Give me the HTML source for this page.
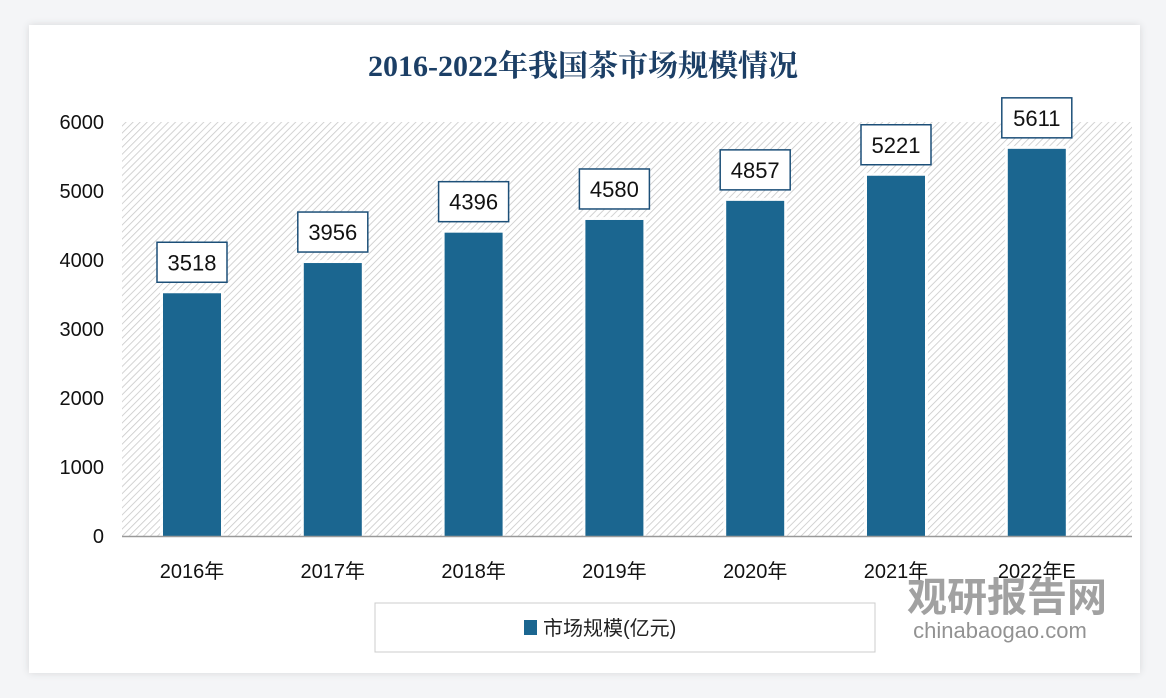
<!DOCTYPE html>
<html><head><meta charset="utf-8"><style>
body{margin:0;background:#f4f5f7;width:1166px;height:698px;overflow:hidden;font-family:"Liberation Sans","Noto Sans CJK SC",sans-serif}
#card{position:absolute;left:29px;top:25px;width:1111px;height:648px;background:#fff;box-shadow:0 0 8px rgba(0,0,0,.12)}
</style></head><body>
<div id="card"></div>
<svg id="chart" width="1166" height="698" style="position:absolute;left:0;top:0">
<defs><pattern id="hatch" width="5" height="5" patternUnits="userSpaceOnUse" patternTransform="rotate(45)"><rect width="5" height="5" fill="#fff"/><line x1="0" y1="0" x2="0" y2="5" stroke="#c8c8c8" stroke-width="1.6"/></pattern></defs>
<text x="583" y="76" text-anchor="middle" font-family="'Liberation Serif','Noto Serif CJK SC',serif" font-weight="bold" font-size="30" fill="#1c3f66">2016-2022年我国茶市场规模情况</text>
<rect x="122" y="122" width="1010" height="414" fill="url(#hatch)"/>
<g id="bars"></g>
<line x1="122" y1="536.5" x2="1132" y2="536.5" stroke="#999" stroke-width="1.5"/>
<rect x="375" y="603" width="500" height="49" fill="#fff" stroke="#ccc"/>
<rect x="524" y="620" width="13" height="15" fill="#1b6690"/>
<text x="543" y="635" font-size="20" fill="#222">市场规模(亿元)</text>
<text x="1007" y="611" text-anchor="middle" font-size="40" font-weight="bold" fill="#8a8a8a" opacity="0.8">观研报告网</text>
<text x="1000" y="638" text-anchor="middle" font-size="22" fill="#777" opacity="0.8">chinabaogao.com</text>
</svg>
<script>
const categories=["2016年","2017年","2018年","2019年","2020年","2021年","2022年E"];
const values=[3518,3956,4396,4580,4857,5221,5611];
const yTicks=[0,1000,2000,3000,4000,5000,6000];
const NS="http://www.w3.org/2000/svg";
const g=document.getElementById('bars'),svg=document.getElementById('chart');
const x0=121.6,step=140.8,yTop=122,yBot=536,yMax=6000;
const y=v=>yBot-(v/yMax)*(yBot-yTop);
const xc=i=>x0+step*(i+0.5);
function mk(t,a){const e=document.createElementNS(NS,t);for(const k in a)e.setAttribute(k,a[k]);return e;}
yTicks.forEach(v=>{const t=mk('text',{x:104,y:y(v)+7,'text-anchor':'end','font-size':20,fill:'#111'});t.textContent=v;


svg.appendChild(t);});
categories.forEach((c,i)=>{const t=mk('text',{x:xc(i),y:578,'text-anchor':'middle','font-size':20,fill:'#111'});t.textContent=c;


svg.appendChild(t);});
values.forEach((v,i)=>{const bw=58,cx=xc(i),top=y(v);
const sh=mk('rect',{x:cx-bw/2-3,y:top-3,width:bw+6,height:yBot-top+3,fill:'#fff',opacity:.85});


g.appendChild(sh);
const r=mk('rect',{x:cx-bw/2,y:top,width:bw,height:yBot-top,fill:'#1b6690'});


g.appendChild(r);
const b=mk('rect',{x:cx-35,y:top-51,width:70,height:40,fill:'#fff',stroke:'#1c4f78','stroke-width':1.5});


g.appendChild(b);
const t=mk('text',{x:cx,y:top-23,'text-anchor':'middle','font-size':22,fill:'#111'});t.textContent=v;


g.appendChild(t);});
</script>
</body></html>
